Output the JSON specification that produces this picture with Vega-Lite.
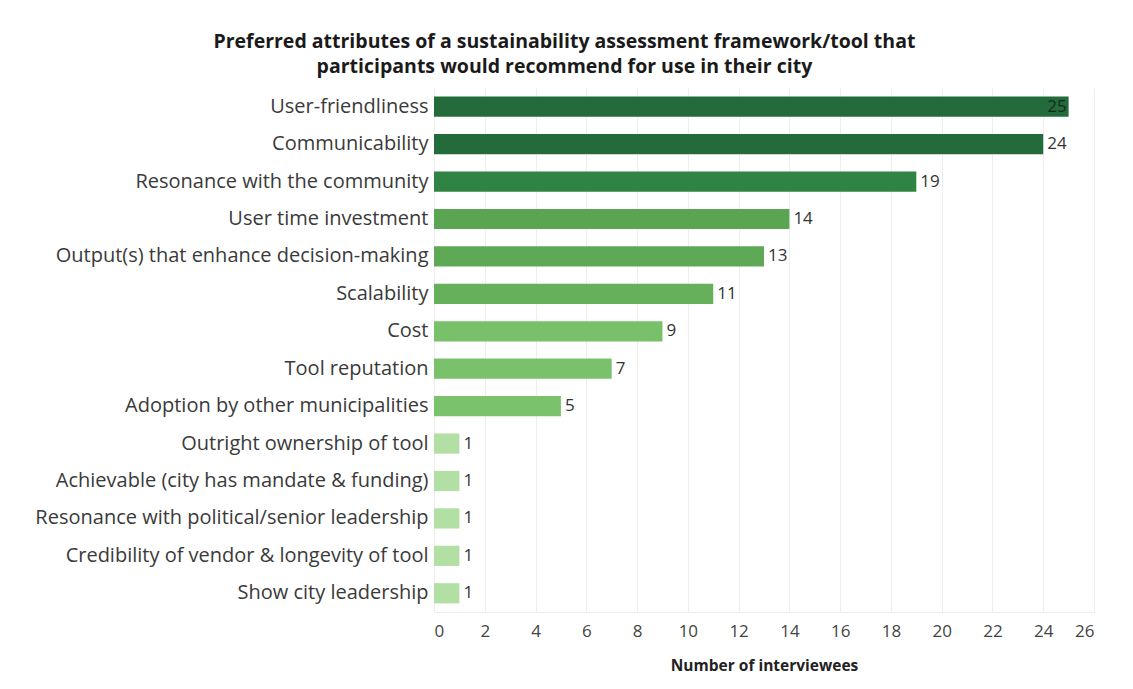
{
  "$schema": "https://vega.github.io/schema/vega-lite/v6.json",
  "width": 660,
  "height": 524,
  "padding": {"left": 34, "top": 31, "right": 36, "bottom": 5},
  "background": "white",
  "title": {
    "text": ["Preferred attributes of a sustainability assessment framework/tool that", "participants would recommend for use in their city"],
    "font": "Open Sans",
    "fontSize": 19.5,
    "fontWeight": "bold",
    "color": "#1a1a1a",
    "lineHeight": 25,
    "anchor": "middle",
    "frame": "bounds",
    "offset": 11
  },
  "data": {
    "values": [
      {"attribute": "User-friendliness", "count": 25},
      {"attribute": "Communicability", "count": 24},
      {"attribute": "Resonance with the community", "count": 19},
      {"attribute": "User time investment", "count": 14},
      {"attribute": "Output(s) that enhance decision-making", "count": 13},
      {"attribute": "Scalability", "count": 11},
      {"attribute": "Cost", "count": 9},
      {"attribute": "Tool reputation", "count": 7},
      {"attribute": "Adoption by other municipalities", "count": 5},
      {"attribute": "Outright ownership of tool", "count": 1},
      {"attribute": "Achievable (city has mandate & funding)", "count": 1},
      {"attribute": "Resonance with political/senior leadership", "count": 1},
      {"attribute": "Credibility of vendor & longevity of tool", "count": 1},
      {"attribute": "Show city leadership", "count": 1}
    ]
  },
  "encoding": {
    "y": {
      "field": "attribute",
      "type": "nominal",
      "sort": null,
      "title": null,
      "scale": {"paddingInner": 0.46, "paddingOuter": 0.23},
      "axis": {
        "labelFont": "Open Sans",
        "labelFontSize": 20,
        "labelColor": "#3a3a3a",
        "labelPadding": 6,
        "labelLimit": 500,
        "ticks": false,
        "domain": false,
        "grid": false
      }
    },
    "x": {
      "field": "count",
      "type": "quantitative",
      "title": "Number of interviewees",
      "scale": {"domain": [0, 26], "nice": false},
      "axis": {
        "values": [0, 2, 4, 6, 8, 10, 12, 14, 16, 18, 20, 22, 24, 26],
        "labelFont": "Open Sans",
        "labelFontSize": 17,
        "labelColor": "#444444",
        "labelFlush": true,
        "labelPadding": 11,
        "ticks": false,
        "domain": true,
        "domainColor": "#eeeeee",
        "gridColor": "#eeeeee",
        "titleFont": "Open Sans",
        "titleFontSize": 15.5,
        "titleFontWeight": "bold",
        "titleColor": "#222222",
        "titlePadding": 19
      }
    }
  },
  "layer": [
    {
      "mark": {"type": "bar"},
      "encoding": {
        "color": {
          "field": "count",
          "type": "quantitative",
          "legend": null,
          "scale": {
            "domain": [1, 5, 9, 11, 14, 19, 24, 25],
            "range": ["#b2dfa4", "#7bc26c", "#79c06a", "#66b05c", "#5aa552", "#2f8443", "#236b3b", "#236b3b"]
          }
        }
      }
    },
    {
      "transform": [{"filter": "datum.count < 25"}],
      "mark": {"type": "text", "align": "left", "dx": 4, "font": "Open Sans", "fontSize": 17, "color": "#333333"},
      "encoding": {"text": {"field": "count", "type": "quantitative"}}
    },
    {
      "transform": [{"filter": "datum.count >= 25"}],
      "mark": {"type": "text", "align": "right", "dx": -2, "font": "Open Sans", "fontSize": 17, "color": "#1a2a1e"},
      "encoding": {"text": {"field": "count", "type": "quantitative"}}
    }
  ],
  "config": {"view": {"stroke": null}}
}
